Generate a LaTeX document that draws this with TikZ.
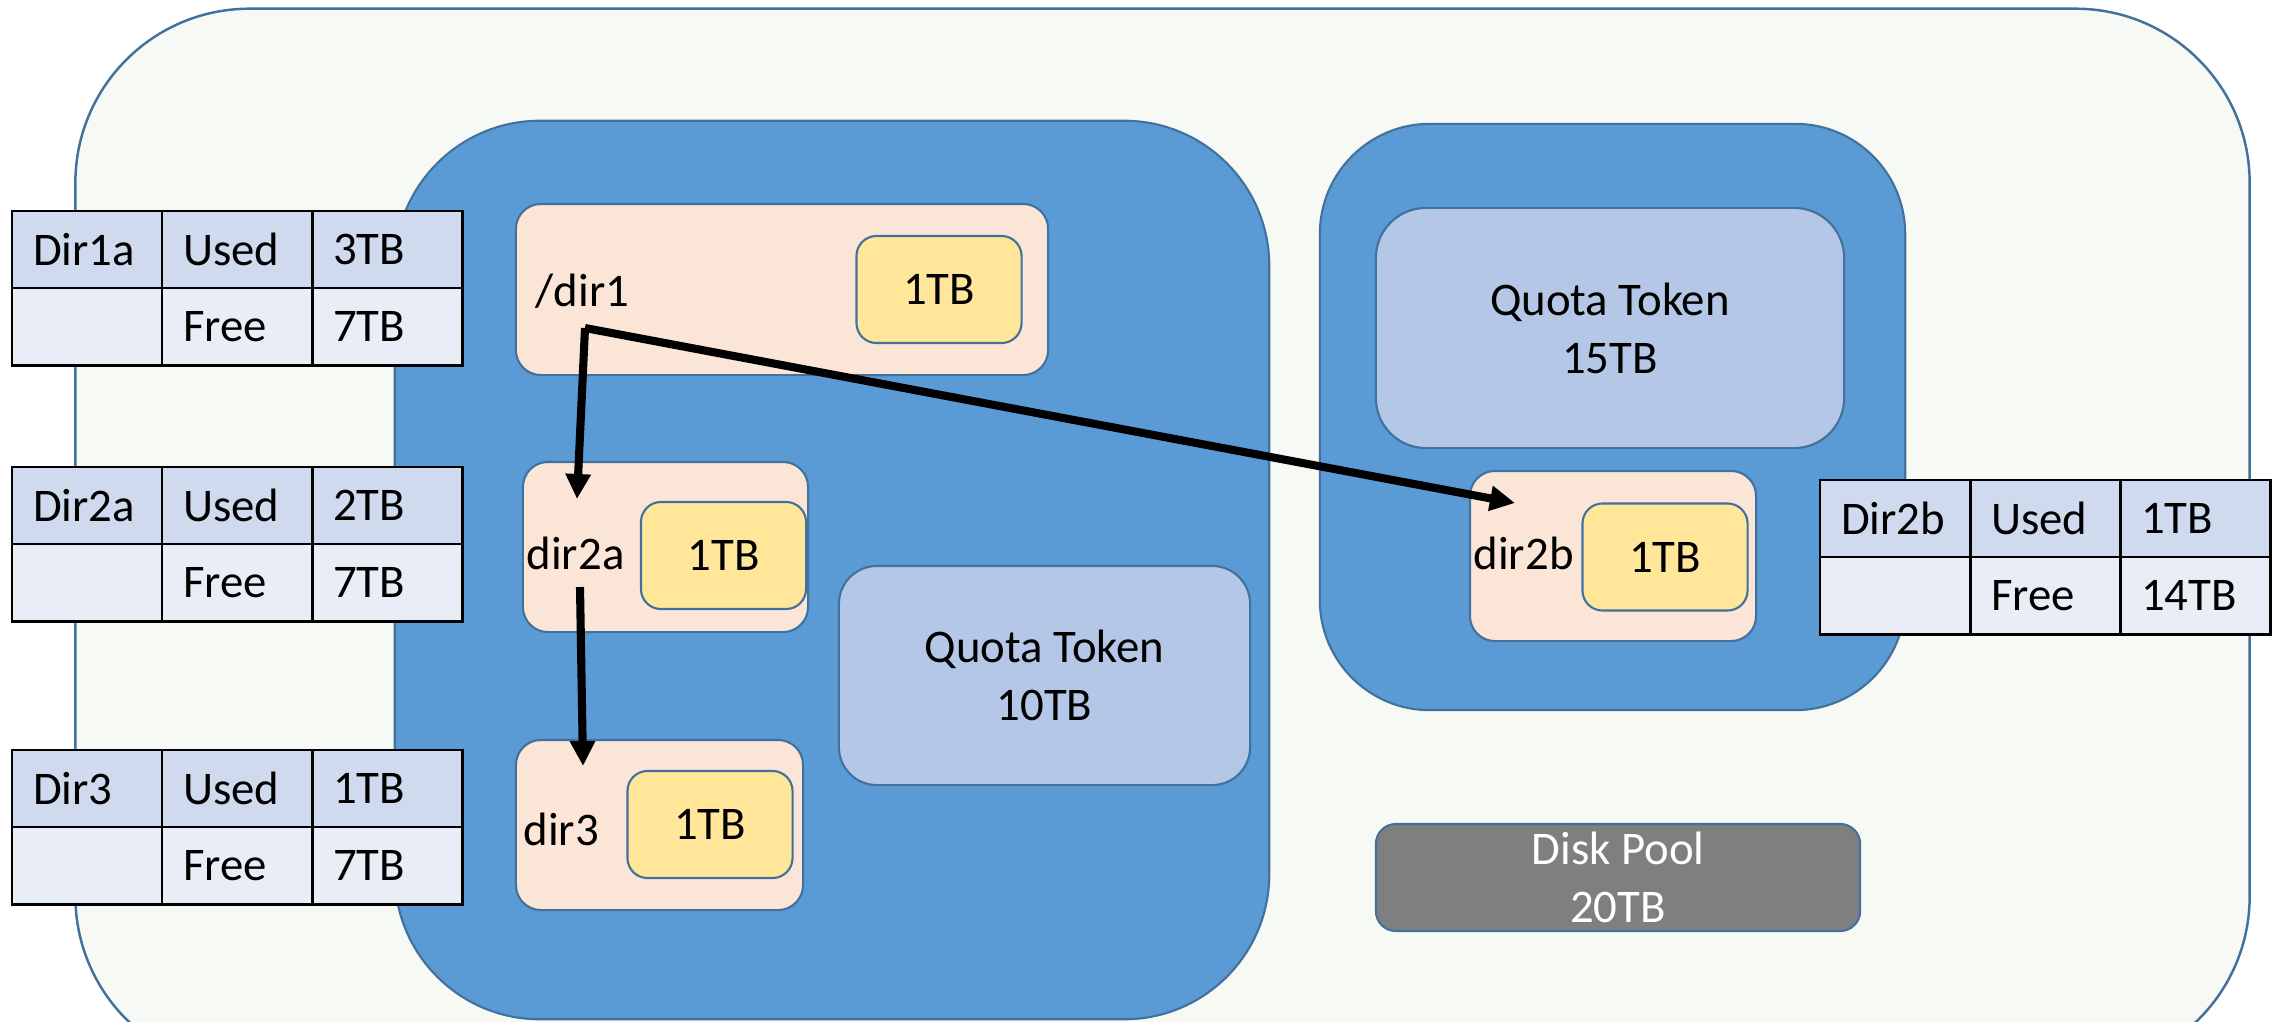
\documentclass[tikz,border=0pt]{standalone}
\usepackage{fontspec}
\setmainfont{Carlito}
\usetikzlibrary{positioning}
\usetikzlibrary{arrows.meta}
\definecolor{edgeblue}{HTML}{41719C}
\definecolor{poolbg}{HTML}{F7F9F4}
\definecolor{quotablue}{HTML}{5B9BD5}
\definecolor{peach}{HTML}{FBE5D6}
\definecolor{gold}{HTML}{FFE699}
\definecolor{tokenblue}{HTML}{B4C7E7}
\definecolor{diskgrey}{HTML}{7F7F7F}
\definecolor{hdrcell}{HTML}{CFDAEE}
\definecolor{bodycell}{HTML}{E9EDF6}
\tikzset{
	box/.style = {rectangle, draw=edgeblue, align=center, inner sep=0pt,
		line width=0.6pt, font=\fontsize{13.3}{16.5}\selectfont},
	poolbox/.style = {box, fill=poolbg, line width=0.7pt, rounded corners=1.74cm},% whole disk pool
	quotabox/.style = {box, fill=quotablue},% quota area
	dirbox/.style = {box, fill=peach, rounded corners=0.25cm},% directory
	sizebox/.style = {box, fill=gold, rounded corners=0.2cm,
		minimum width=1.65cm, minimum height=1.07cm},% used space
	tokenbox/.style = {box, fill=tokenblue},% quota token
	diskbox/.style = {box, fill=diskgrey, text=white, rounded corners=0.2cm},% disk pool
	dirlbl/.style = {inner sep=0pt, anchor=west, font=\fontsize{13.3}{16.5}\selectfont},
	cell/.style = {rectangle, draw=black, line width=0.8pt, outer sep=0pt,
		minimum height=0.77cm, text width=1.08cm, inner xsep=0.21cm, inner ysep=0pt,
		align=left, font=\fontsize{13.3}{16.5}\selectfont},
	hcell/.style = {cell, fill=hdrcell},% table, first row
	bcell/.style = {cell, fill=bodycell},% table, second row
	flow/.style = {-{Triangle[length=0.25cm,width=0.24cm]}, line width=2.3pt}
}
\begin{document}
\begin{tikzpicture}[x=0.01cm, y=-0.01cm]
	\useasboundingbox (0,0) rectangle (2280,1021);
	\clip (0,0) rectangle (2280,1021);
	\node[poolbox, minimum width=21.73cm, minimum height=10.61cm] (pool) at (1162.5,539.5) {};
	\node[quotabox, rounded corners=1.45cm, minimum width=8.74cm, minimum height=8.98cm] (quotaA) at (832,570) {};
	\node[quotabox, rounded corners=1.1cm, minimum width=5.85cm, minimum height=5.86cm] (quotaB) at (1612.5,417) {};
	% directories
	\node[dirbox, minimum width=5.32cm, minimum height=1.71cm] (dir1) at (782,289.5) {};
	\node[dirbox, minimum width=2.85cm, minimum height=1.70cm] (dir2a) at (665.5,547) {};
	\node[dirbox, minimum width=2.87cm, minimum height=1.70cm] (dir3) at (659.5,825) {};
	\node[dirbox, minimum width=2.86cm, minimum height=1.70cm] (dir2b) at (1613,556) {};
	\node[sizebox] (size1) at (939,289.5) {1TB};
	\node[sizebox] (size2a) at (723.5,555.5) {1TB};
	\node[sizebox] (size3) at (710,824.5) {1TB};
	\node[sizebox] (size2b) at (1665,557) {1TB};
	\node[dirlbl] (lbl-dir1) at (535,291) {/dir1};
	\node[dirlbl] (lbl-dir2a) at (526,553) {dir2a};
	\node[dirlbl] (lbl-dir3) at (523,829) {dir3};
	\node[dirlbl] (lbl-dir2b) at (1473,553) {dir2b};
	% tokens and pool
	\node[tokenbox, rounded corners=0.38cm, minimum width=4.11cm, minimum height=2.19cm] (token10) at (1044.5,675.5) {Quota Token\\10TB};
	\node[tokenbox, rounded corners=0.5cm, minimum width=4.68cm, minimum height=2.40cm] (token15) at (1610,328) {Quota Token\\15TB};
	\node[diskbox, minimum width=4.84cm, minimum height=1.07cm] (disk) at (1618,877.5) {Disk Pool\\20TB};
	% links
	\coordinate (split) at (585,328);
	\coordinate (to2a) at (577,499);
	\coordinate (to2b) at (1515,503);
	\coordinate (from2a) at (580,587);
	\coordinate (to3) at (583,766);
	\draw[flow] (split) -- (to2a);
	\draw[flow] (split) -- (to2b);
	\draw[flow] (from2a) -- (to3);
	% usage tables
	\foreach \tab/\x/\y/\tlabel/\used/\free in {t1a/12/211/Dir1a/3TB/7TB,
		t2a/12/467/Dir2a/2TB/7TB, t3/12/750/Dir3/1TB/7TB, t2b/1820/480/Dir2b/1TB/14TB}{
		\node[hcell, anchor=north west] (\tab-name) at (\x,\y) {\tlabel};
		\node[hcell, right=0pt of \tab-name] (\tab-used) {Used};
		\node[hcell, right=0pt of \tab-used] (\tab-uval) {\used};
		\node[bcell, below=0pt of \tab-name] (\tab-blank) {};
		\node[bcell, right=0pt of \tab-blank] (\tab-free) {Free};
		\node[bcell, right=0pt of \tab-free] (\tab-fval) {\free};
	}
\end{tikzpicture}
\end{document}
